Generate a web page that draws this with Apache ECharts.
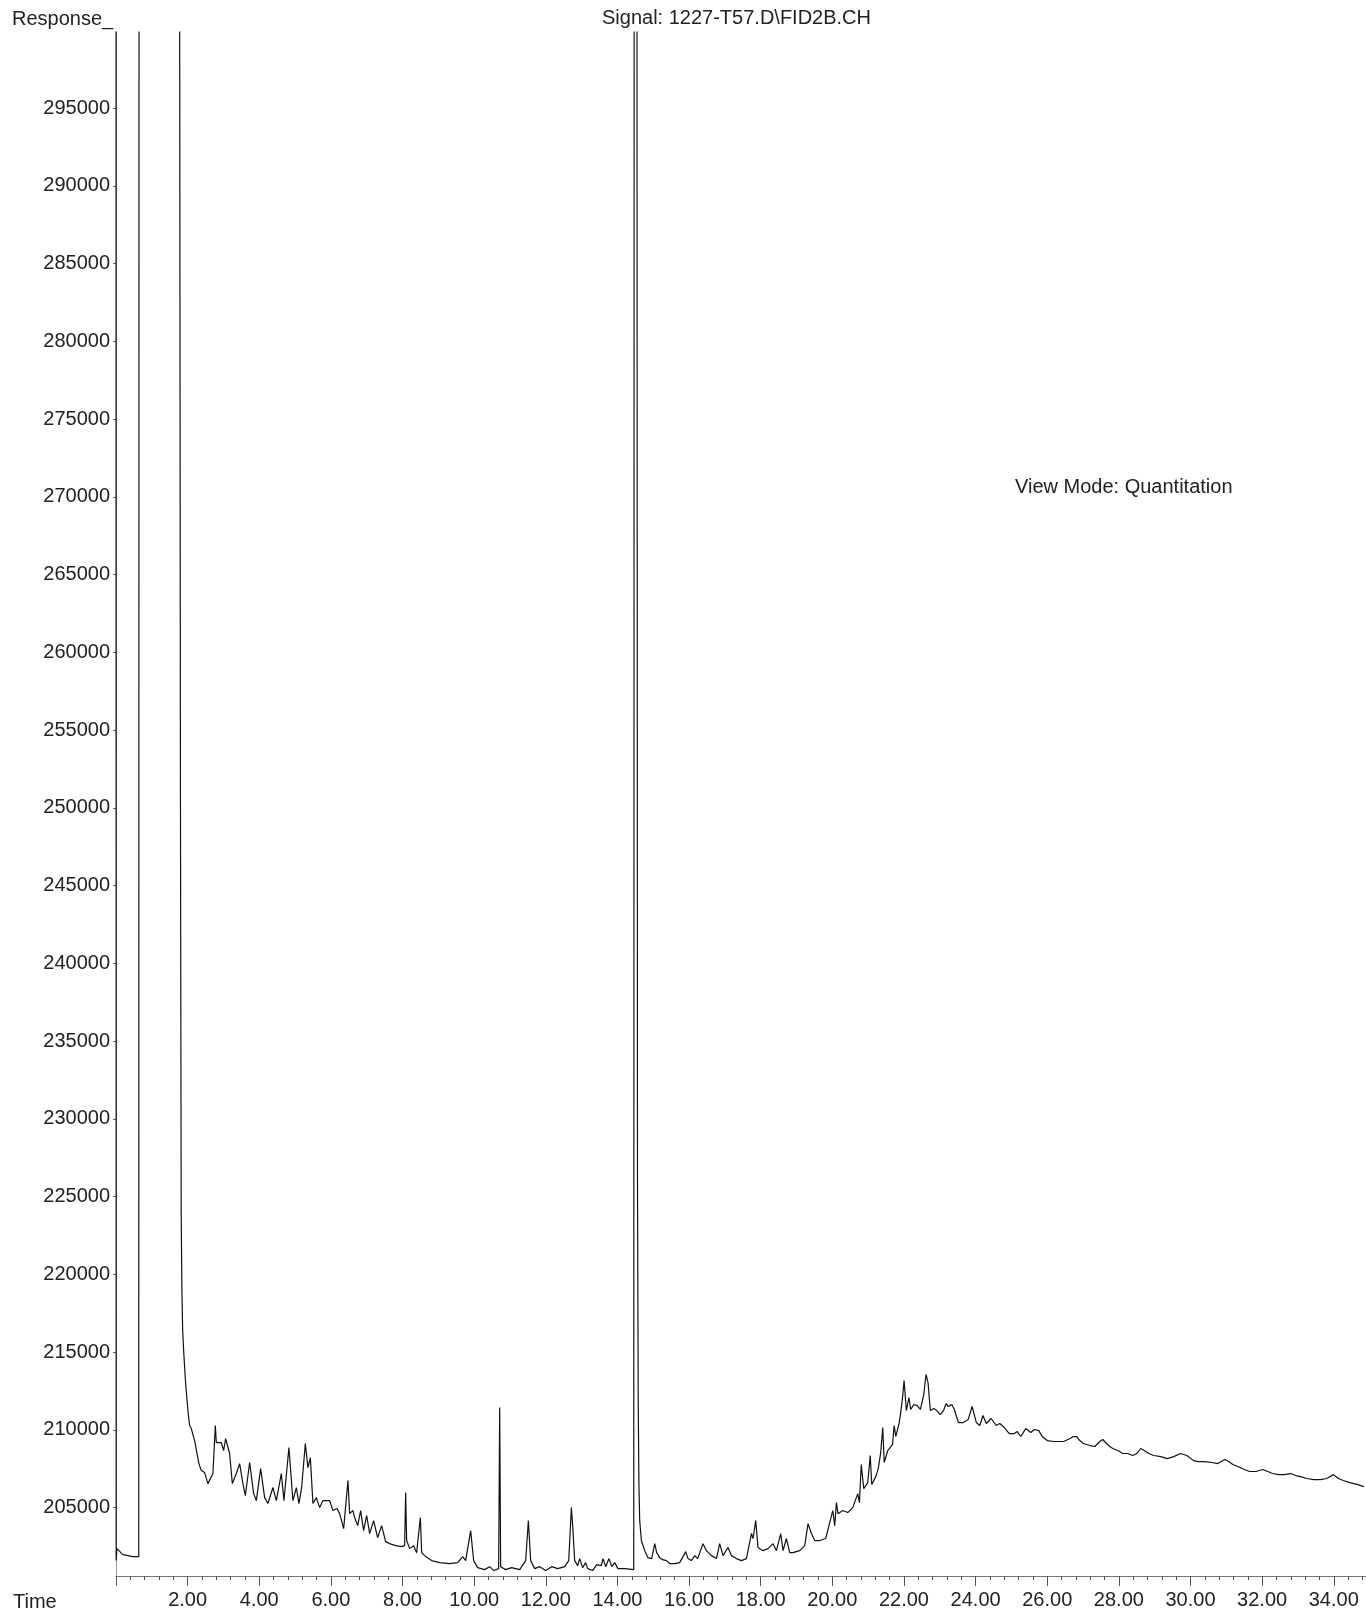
<!DOCTYPE html>
<html>
<head>
<meta charset="utf-8">
<script src="https://cdn.jsdelivr.net/npm/echarts@6/dist/echarts.min.js"></script>
<style>
html,body{margin:0;padding:0;background:#fff;}
#chart{width:1366px;height:1613px;}
</style>
</head>
<body>
<div id="chart"></div>
<script>
// ---- data (time in min, response) ----
var seg1Times = [0, 0.005, 0.025, 0.081, 0.193, 0.472, 0.635, 0.645, 1.765, 1.78,
  1.80, 1.82, 1.84, 1.86, 1.888, 1.944, 2.008, 2.055, 2.10, 2.195,
  2.315, 2.382, 2.474, 2.566, 2.706, 2.773, 2.801, 2.941, 3.005, 3.061,
  3.125, 3.172, 3.248, 3.359, 3.452, 3.544, 3.611, 3.731, 3.843, 3.918,
  4.038, 4.150, 4.242, 4.381, 4.476, 4.616, 4.689, 4.828, 4.940, 5.035,
  5.107, 5.183, 5.286, 5.359, 5.426, 5.498, 5.593, 5.686, 5.778, 5.965,
  6.057, 6.169, 6.244, 6.356, 6.476, 6.523, 6.616, 6.663, 6.747, 6.830,
  6.914, 6.998];
var seg1Resp = [330000, 201600, 202360, 202230, 201975, 201850, 201850, 330000, 330000, 296000,
  250000, 224000, 219000, 216500, 215100, 212980, 211240, 210280, 210100, 209310,
  207830, 207380, 207250, 206540, 207190, 210280, 209180, 209180, 208670, 209440,
  208880, 208480, 206540, 207190, 207830, 206540, 205770, 207900, 205900, 205450,
  207510, 205640, 205260, 206290, 205450, 207190, 205450, 208860, 205450, 206290,
  205260, 206290, 209120, 207570, 208220, 205260, 205640, 205000, 205450, 205450,
  204810, 204940, 204610, 203650, 206740, 204610, 204810, 204360, 203840, 204810,
  203520, 204490];

var seg2Times = [7.082, 7.193, 7.305, 7.417, 7.528, 7.640, 7.808, 7.975, 8.059, 8.087,
  8.115, 8.199, 8.310, 8.394, 8.498, 8.534, 8.646, 8.813, 9.037, 9.316,
  9.540, 9.679, 9.763, 9.902, 9.986, 10.097, 10.293, 10.433, 10.545, 10.684,
  10.712, 10.740, 10.880, 11.047, 11.270, 11.438, 11.513, 11.578, 11.690, 11.830,
  11.997, 12.165, 12.332, 12.528, 12.640, 12.714, 12.759, 12.806, 12.890, 12.946,
  13.029, 13.113, 13.169, 13.309, 13.420, 13.552, 13.597, 13.672, 13.764, 13.840,
  13.924, 14.016, 14.203, 14.455];
var seg2Resp = [203330, 204160, 203070, 203840, 202810, 202680, 202550, 202490, 202550, 205970,
  202880, 202360, 202550, 202100, 204360, 202100, 201850, 201590, 201460, 201400,
  201460, 201850, 201590, 203520, 201590, 201140, 201010, 201200, 200950, 201075,
  211430, 201200, 201010, 201140, 201010, 201590, 204160, 201590, 201075, 201200,
  200950, 201200, 201075, 201200, 201590, 205000, 203520, 201590, 201270, 201720,
  201140, 201460, 201075, 200950, 201330, 201270, 201720, 201200, 201720, 201200,
  201460, 201075, 201075, 201010];

var seg3Times = [14.47, 14.54, 14.56, 14.58, 14.60, 14.622, 14.669, 14.761, 14.853, 14.957,
  15.041, 15.096, 15.180, 15.264, 15.367, 15.459, 15.599, 15.739, 15.907, 15.970,
  16.065, 16.158, 16.241, 16.389, 16.484, 16.624, 16.764, 16.855, 16.948, 17.088,
  17.183, 17.322, 17.462, 17.602, 17.741, 17.786, 17.861, 17.925, 18.065, 18.204,
  18.344, 18.439, 18.559, 18.624, 18.718, 18.810, 18.903, 19.090, 19.229, 19.322,
  19.416, 19.508, 19.648, 19.815, 20.011, 20.067, 20.114, 20.159, 20.291, 20.430,
  20.570, 20.709, 20.757, 20.807, 20.877, 20.989, 21.058, 21.100, 21.212, 21.282,
  21.351, 21.407, 21.449, 21.547, 21.681, 21.726, 21.771, 21.863, 21.910, 21.966,
  22.003];
var seg3Resp = [330000, 330000, 226000, 212000, 206500, 204160, 202880, 202230, 201780, 201720,
  202680, 202100, 201780, 201650, 201590, 201400, 201400, 201460, 202170, 201720,
  201590, 201910, 201720, 202680, 202230, 201910, 201720, 202680, 201910, 202430,
  201910, 201720, 201590, 201720, 203330, 203010, 204160, 202430, 202230, 202360,
  202680, 202230, 203330, 202230, 203010, 202100, 202100, 202230, 202550, 203970,
  203330, 202880, 202880, 203010, 204810, 203840, 205320, 204610, 204810, 204680,
  205000, 205900, 205320, 207770, 206220, 206610, 208350, 206480, 206990, 207510,
  208540, 210150, 207900, 208670, 209050, 210280, 209570, 210410, 211110, 212210,
  213170];

var seg4Times = [22.067, 22.139, 22.189, 22.273, 22.368, 22.460, 22.552, 22.616, 22.672, 22.736,
  22.832, 22.915, 23.013, 23.105, 23.178, 23.242, 23.334, 23.407, 23.518, 23.655,
  23.792, 23.904, 24.021, 24.116, 24.205, 24.298, 24.434, 24.574, 24.675, 24.803,
  24.940, 25.080, 25.163, 25.261, 25.401, 25.540, 25.638, 25.764, 25.859, 25.998,
  26.183, 26.456, 26.641, 26.727, 26.825, 26.909, 27.009, 27.188, 27.328, 27.467,
  27.551, 27.652, 27.746, 27.830, 27.970, 28.109, 28.249, 28.389, 28.500, 28.611,
  28.707, 28.835, 28.975, 29.170, 29.349, 29.534, 29.718, 29.897, 30.087, 30.224,
  30.400, 30.595, 30.763, 30.958, 31.070, 31.181, 31.321, 31.508, 31.648, 31.824,
  32.020, 32.159, 32.290, 32.466, 32.605, 32.801, 32.940, 33.072, 33.248, 33.444,
  33.622, 33.806, 33.991, 34.127, 34.264, 34.448, 34.672, 34.840];
var seg4Resp = [211240, 212080, 211310, 211630, 211560, 211310, 212270, 213560, 213040, 211240,
  211370, 211240, 210980, 211240, 211690, 211500, 211630, 211310, 210470, 210470,
  210660, 211500, 210470, 210280, 210920, 210410, 210730, 210280, 210410, 210150,
  209760, 209760, 209890, 209570, 210080, 209830, 210020, 209950, 209570, 209310,
  209250, 209250, 209440, 209570, 209570, 209310, 209120, 208990, 208930, 209250,
  209380, 209120, 208930, 208800, 208670, 208480, 208480, 208350, 208480, 208800,
  208670, 208480, 208350, 208280, 208150, 208280, 208480, 208350, 208020, 207960,
  207960, 207900, 207830, 208090, 207960, 207770, 207640, 207450, 207320, 207320,
  207450, 207320, 207190, 207120, 207120, 207190, 207060, 206990, 206870, 206800,
  206800, 206870, 207120, 206870, 206740, 206610, 206480, 206350];

var yTickValues = [205000, 210000, 215000, 220000, 225000, 230000, 235000, 240000, 245000, 250000,
  255000, 260000, 265000, 270000, 275000, 280000, 285000, 290000, 295000];

var titleText = 'Signal: 1227-T57.D\\FID2B.CH';
var yLabelText = 'Response_';
var xLabelText = 'Time';
var modeText = 'View Mode: Quantitation';

// ---- build ----
function pairs(ts, rs) { return ts.map(function (t, i) { return [t, rs[i]]; }); }
var traceData = [].concat(
  pairs(seg1Times, seg1Resp),
  pairs(seg2Times, seg2Resp),
  pairs(seg3Times, seg3Resp),
  pairs(seg4Times, seg4Resp)
);

var FONT = '"Liberation Sans", Arial, sans-serif';
var txt = { fontSize: 20, fontWeight: 'normal', color: '#222', fontFamily: FONT };

var chart = echarts.init(document.getElementById('chart'), null, { renderer: 'canvas' });
chart.setOption({
  animation: false,
  backgroundColor: '#ffffff',
  title: [
    { text: yLabelText, left: 12, top: 9, padding: 0, textStyle: txt },
    { text: titleText, left: 602, top: 8, padding: 0, textStyle: txt },
    { text: modeText, left: 1015, top: 477, padding: 0, textStyle: txt },
    { text: xLabelText, left: 13, top: 1592, padding: 0, textStyle: txt }
  ],
  grid: { left: 116, right: 0, top: 32, bottom: 37, containLabel: false },
  xAxis: {
    type: 'value',
    min: 0,
    max: 34.9,
    interval: 2,
    axisLine: { show: true, lineStyle: { color: '#777', width: 1 } },
    axisTick: { show: true, length: 10, inside: false, lineStyle: { color: '#555' } },
    minorTick: { show: true, splitNumber: 5, length: 4, lineStyle: { color: '#555' } },
    splitLine: { show: false },
    minorSplitLine: { show: false },
    axisLabel: {
      margin: 14,
      fontSize: 20,
      color: '#222',
      fontFamily: FONT,
      showMinLabel: false,
      showMaxLabel: false,
      formatter: function (v) { return v === 0 ? '' : v.toFixed(2); }
    }
  },
  yAxis: {
    type: 'value',
    min: 200600,
    max: 299900,
    axisLine: { show: true, lineStyle: { color: '#999', width: 1 } },
    axisTick: { show: true, length: 3, inside: false, customValues: yTickValues, lineStyle: { color: '#666' } },
    splitLine: { show: false },
    axisLabel: {
      margin: 6,
      fontSize: 20,
      color: '#222',
      fontFamily: FONT,
      customValues: yTickValues,
      formatter: function (v) { return String(v); }
    }
  },
  series: [{
    type: 'line',
    data: traceData,
    showSymbol: false,
    clip: true,
    lineStyle: { color: '#111', width: 1.2 },
    emphasis: { disabled: true }
  }]
});
</script>
</body>
</html>
